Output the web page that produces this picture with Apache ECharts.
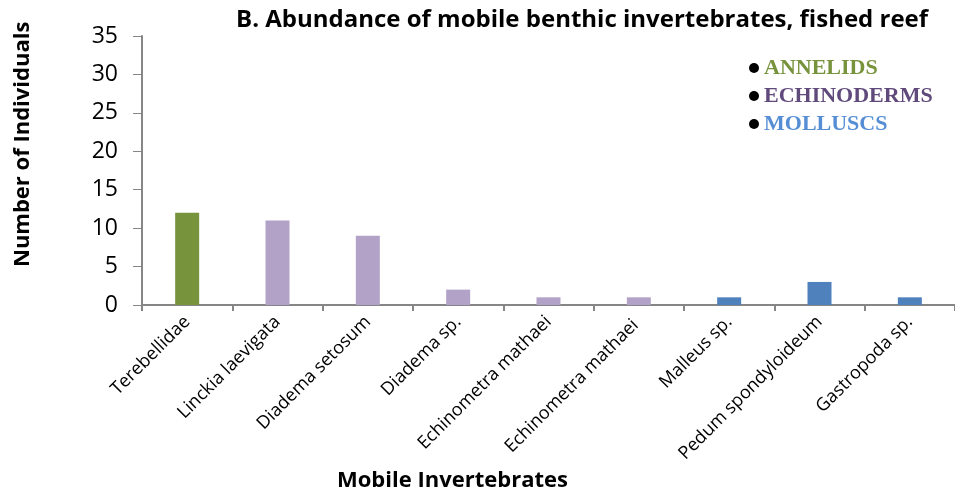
<!DOCTYPE html>
<html>
<head>
<meta charset="utf-8">
<script src="https://cdn.jsdelivr.net/npm/echarts@6/dist/echarts.min.js"></script>
<style>
html,body{margin:0;padding:0;background:#fff;}
#chart{width:955px;height:495px;}
</style>
</head>
<body>
<div id="chart"></div>
<script>
var categories = ['Terebellidae','Linckia laevigata','Diadema setosum','Diadema sp.','Echinometra mathaei','Echinometra mathaei ','Malleus sp.','Pedum spondyloideum','Gastropoda sp.'];
var annelids = [12, null, null, null, null, null, null, null, null];
var echinoderms = [null, 11, 9, 2, 1, 1, null, null, null];
var molluscs = [null, null, null, null, null, null, 1, 3, 1];
var yTicks = [0, 5, 10, 15, 20, 25, 30, 35];

var font = 'Open Sans';
var chart = echarts.init(document.getElementById('chart'));
var option = {
	animation: false,
	backgroundColor: '#fff',
	title: {
		text: 'B. Abundance of mobile benthic invertebrates, fished reef',
		left: 231,
		top: 3,
		textStyle: {fontFamily: font, fontWeight: 'bold', fontSize: 24, color: '#000'}
	},
	legend: {
		orient: 'vertical',
		left: 744,
		top: 52,
		itemGap: 6,
		icon: 'circle',
		itemWidth: 10,
		itemHeight: 10,
		textStyle: {fontFamily: 'Liberation Serif', fontWeight: 'bold', fontSize: 22},
		data: [
			{name: 'ANNELIDS', itemStyle: {color: '#000'}, textStyle: {color: '#77933C'}},
			{name: 'ECHINODERMS', itemStyle: {color: '#000'}, textStyle: {color: '#604A7B'}},
			{name: 'MOLLUSCS', itemStyle: {color: '#000'}, textStyle: {color: '#558ED5'}}
		]
	},
	grid: {left: 142, right: -8, top: 36, bottom: 190},
	xAxis: {
		type: 'category',
		data: categories,
		axisLine: {lineStyle: {color: '#868686', width: 2}},
		axisTick: {show: true, length: 6, lineStyle: {color: '#868686', width: 2}},
		axisLabel: {
			rotate: 45, interval: 0, margin: 14,
			fontFamily: font, fontSize: 18, color: '#000'
		}
	},
	yAxis: {
		type: 'value',
		min: yTicks[0],
		max: yTicks[yTicks.length - 1],
		interval: 5,
		splitLine: {show: false},
		axisLine: {show: true, lineStyle: {color: '#868686', width: 2}},
		axisTick: {show: true, length: 9, inside: false, lineStyle: {color: '#868686', width: 1}},
		axisLabel: {fontFamily: font, fontSize: 23, color: '#000', margin: 24}
	},
	graphic: [
		{type: 'text', left: 337, top: 470, style: {text: 'Mobile Invertebrates', font: 'bold 22px "' + font + '"', fill: '#000'}},
		{type: 'text', x: 12, y: 267, rotation: Math.PI / 2, style: {text: 'Number of Individuals', font: 'bold 22px "' + font + '"', fill: '#000'}}
	],
	series: [
		{name: 'ANNELIDS', type: 'bar', data: annelids, barWidth: 24, barGap: '-100%', itemStyle: {color: '#77933C'}},
		{name: 'ECHINODERMS', type: 'bar', data: echinoderms, barWidth: 24, barGap: '-100%', itemStyle: {color: '#B3A2C7'}},
		{name: 'MOLLUSCS', type: 'bar', data: molluscs, barWidth: 24, barGap: '-100%', itemStyle: {color: '#4F81BD'}}
	]
};
chart.setOption(option);
</script>
</body>
</html>
